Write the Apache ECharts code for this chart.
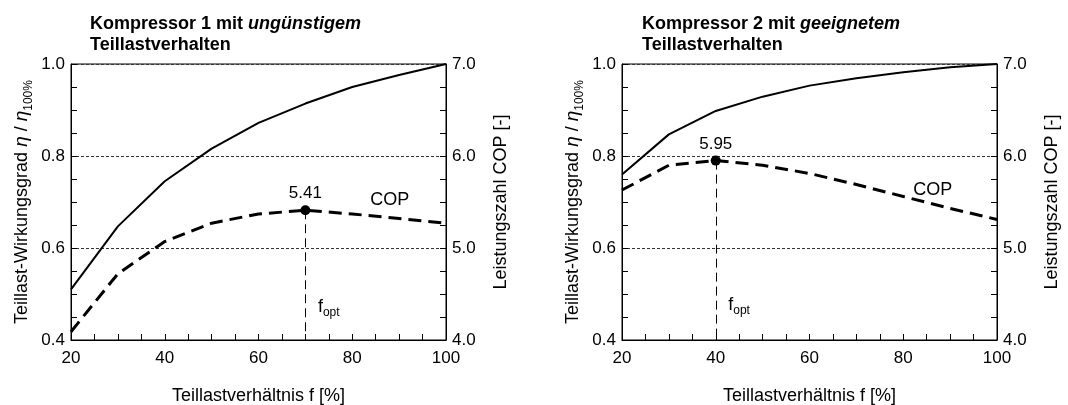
<!DOCTYPE html>
<html>
<head>
<meta charset="utf-8">
<script src="https://cdn.jsdelivr.net/npm/echarts@6/dist/echarts.min.js"></script>
<style>html,body{margin:0;padding:0;background:#fff}#c{width:1068px;height:405px}</style>
</head>
<body>
<div id="c"></div>
<script>
// ---- data ----
const fValues = [20, 30, 40, 50, 60, 70, 80, 90, 100];
const eta1 = [0.51, 0.647, 0.745, 0.816, 0.872, 0.914, 0.950, 0.976, 1.0];
const cop1 = [4.09, 4.72, 5.07, 5.27, 5.37, 5.41, 5.37, 5.32, 5.27];
const eta2 = [0.76, 0.847, 0.898, 0.929, 0.953, 0.969, 0.982, 0.993, 1.0];
const cop2 = [5.63, 5.90, 5.95, 5.90, 5.81, 5.69, 5.56, 5.43, 5.31];
const fOpt = [70, 40];
const copOpt = [5.41, 5.95];
const xTicks = {min: 20, max: 100, interval: 20};
const etaTicks = {min: 0.4, max: 1.0, interval: 0.2};
const copTicks = {min: 4, max: 7, interval: 1};
const titles = [['Kompressor 1 mit ', 'ungünstigem', 'Teillastverhalten'],
                ['Kompressor 2 mit ', 'geeignetem', 'Teillastverhalten']];

const FONT = '"Liberation Sans", Arial, sans-serif';
const zip = (xs, ys) => xs.map((x, i) => [x, ys[i]]);

const chart = echarts.init(document.getElementById('c'), null, {renderer: 'canvas'});

const grids = [
  {left: 71, top: 64, width: 375, height: 276},
  {left: 622, top: 64, width: 375, height: 276}
];

const tickStyle = {color: '#000', width: 1};

function xAxis(g) {
  return {
    type: 'value', gridIndex: g, min: xTicks.min, max: xTicks.max, interval: xTicks.interval,
    axisLine: {show: true, onZero: false, lineStyle: {color: '#000', width: 1}},
    axisTick: {show: true, inside: true, length: 6, lineStyle: tickStyle},
    minorTick: {show: true, splitNumber: 4, length: 6, lineStyle: tickStyle},
    splitLine: {show: false},
    axisLabel: {color: '#000', fontSize: 17, fontFamily: FONT, margin: 10},
    name: 'Teillastverhältnis f [%]', nameLocation: 'middle', nameGap: 47,
    nameTextStyle: {color: '#000', fontSize: 18, fontFamily: FONT}
  };
}
function yEta(g) {
  return {
    type: 'value', gridIndex: g, position: 'left',
    min: etaTicks.min, max: etaTicks.max, interval: etaTicks.interval,
    axisLine: {show: true, onZero: false, lineStyle: {color: '#000', width: 1}},
    axisTick: {show: true, inside: true, length: 6, lineStyle: tickStyle},
    minorTick: {show: true, splitNumber: 4, length: 6, lineStyle: tickStyle},
    splitLine: {show: true, lineStyle: {type: [3, 2], color: '#333', width: 1}},
    axisLabel: {color: '#000', fontSize: 17, fontFamily: FONT, margin: 6, formatter: v => v.toFixed(1)},
    name: '{a|Teillast-Wirkungsgrad }{i|η}{a| / }{i|η}{s|100%}',
    nameLocation: 'middle', nameRotate: 90, nameGap: 36,
    nameTextStyle: {
      color: '#000', fontFamily: FONT,
      rich: {
        a: {fontSize: 18, fontFamily: FONT, color: '#000', lineHeight: 26, verticalAlign: 'middle'},
        i: {fontSize: 19, fontFamily: FONT, fontStyle: 'italic', color: '#000', lineHeight: 26, verticalAlign: 'middle'},
        s: {fontSize: 12, fontFamily: FONT, color: '#000', lineHeight: 26, verticalAlign: 'bottom'}
      }
    }
  };
}
function yCop(g) {
  return {
    type: 'value', gridIndex: g, position: 'right',
    min: copTicks.min, max: copTicks.max, interval: copTicks.interval,
    axisLine: {show: true, onZero: false, lineStyle: {color: '#000', width: 1}},
    axisTick: {show: true, inside: true, length: 6, lineStyle: tickStyle},
    minorTick: {show: true, splitNumber: 4, length: 6, lineStyle: tickStyle},
    splitLine: {show: false},
    axisLabel: {color: '#000', fontSize: 17, fontFamily: FONT, margin: 6, formatter: v => v.toFixed(1)},
    name: 'Leistungszahl COP [-]', nameLocation: 'middle', nameRotate: 90, nameGap: 46,
    nameTextStyle: {color: '#000', fontSize: 18, fontFamily: FONT}
  };
}

const copLabelPos = [[88, 5.52], [86.3, 5.63]];
const foptLabelY = [4.36, 4.38];

const series = [];
const etaSets = [eta1, eta2];
const copSets = [cop1, cop2];
for (let g = 0; g < 2; g++) {
  series.push({
    type: 'line', xAxisIndex: g, yAxisIndex: 2 * g, data: zip(fValues, etaSets[g]),
    symbol: 'none', lineStyle: {color: '#000', width: 2}, z: 3, silent: true
  });
  series.push({
    type: 'line', xAxisIndex: g, yAxisIndex: 2 * g + 1, data: zip(fValues, copSets[g]),
    symbol: 'none', lineStyle: {color: '#000', width: 3, type: [13, 7]}, z: 3, silent: true,
    markLine: {
      silent: true, symbol: 'none', label: {show: false},
      lineStyle: {type: [9, 5], color: '#000', width: 1},
      data: [[{coord: [fOpt[g], copOpt[g]]}, {coord: [fOpt[g], copTicks.min]}]]
    }
  });
  series.push({
    type: 'scatter', xAxisIndex: g, yAxisIndex: 2 * g + 1, data: [[fOpt[g], copOpt[g]]],
    symbolSize: 10, itemStyle: {color: '#000', opacity: 1}, z: 5, silent: true,
    label: {show: true, position: 'top', distance: 3, color: '#000', opacity: 1, fontSize: 17, fontFamily: FONT,
            formatter: p => p.value[1].toFixed(2)}
  });
  series.push({
    type: 'scatter', xAxisIndex: g, yAxisIndex: 2 * g + 1, data: [[fOpt[g], foptLabelY[g]]],
    symbolSize: 1, itemStyle: {color: '#fff', opacity: 0}, z: 5, silent: true,
    label: {show: true, position: 'right', distance: 12, opacity: 1, formatter: '{f|f}{s|opt}',
      rich: {
        f: {fontSize: 18, fontFamily: FONT, color: '#000', lineHeight: 24, verticalAlign: 'middle'},
        s: {fontSize: 12, fontFamily: FONT, color: '#000', lineHeight: 24, verticalAlign: 'bottom'}
      }}
  });
  series.push({
    type: 'scatter', xAxisIndex: g, yAxisIndex: 2 * g + 1, data: [copLabelPos[g]],
    symbolSize: 1, itemStyle: {color: '#fff', opacity: 0}, z: 5, silent: true,
    label: {show: true, position: 'inside', opacity: 1, formatter: 'COP', color: '#000', fontSize: 18, fontFamily: FONT}
  });
}

const titleOpts = titles.map((t, g) => ({
  left: g === 0 ? 90 : 642, top: 14, padding: 0,
  text: '{b|' + t[0] + '}{i|' + t[1] + '}\n{b|' + t[2] + '}',
  textStyle: {
    rich: {
      b: {fontSize: 18, fontWeight: 'bold', fontFamily: FONT, color: '#000', lineHeight: 21},
      i: {fontSize: 18, fontStyle: 'italic', fontFamily: FONT, color: '#000', lineHeight: 21}
    }
  }
}));

chart.setOption({
  animation: false,
  backgroundColor: '#fff',
  title: titleOpts,
  grid: grids.map(g => Object.assign({show: true, borderColor: '#000', borderWidth: 1,
                                      containLabel: false, outerBoundsMode: 'none'}, g)),
  xAxis: [xAxis(0), xAxis(1)],
  yAxis: [yEta(0), yCop(0), yEta(1), yCop(1)],
  series: series
});
</script>
</body>
</html>
